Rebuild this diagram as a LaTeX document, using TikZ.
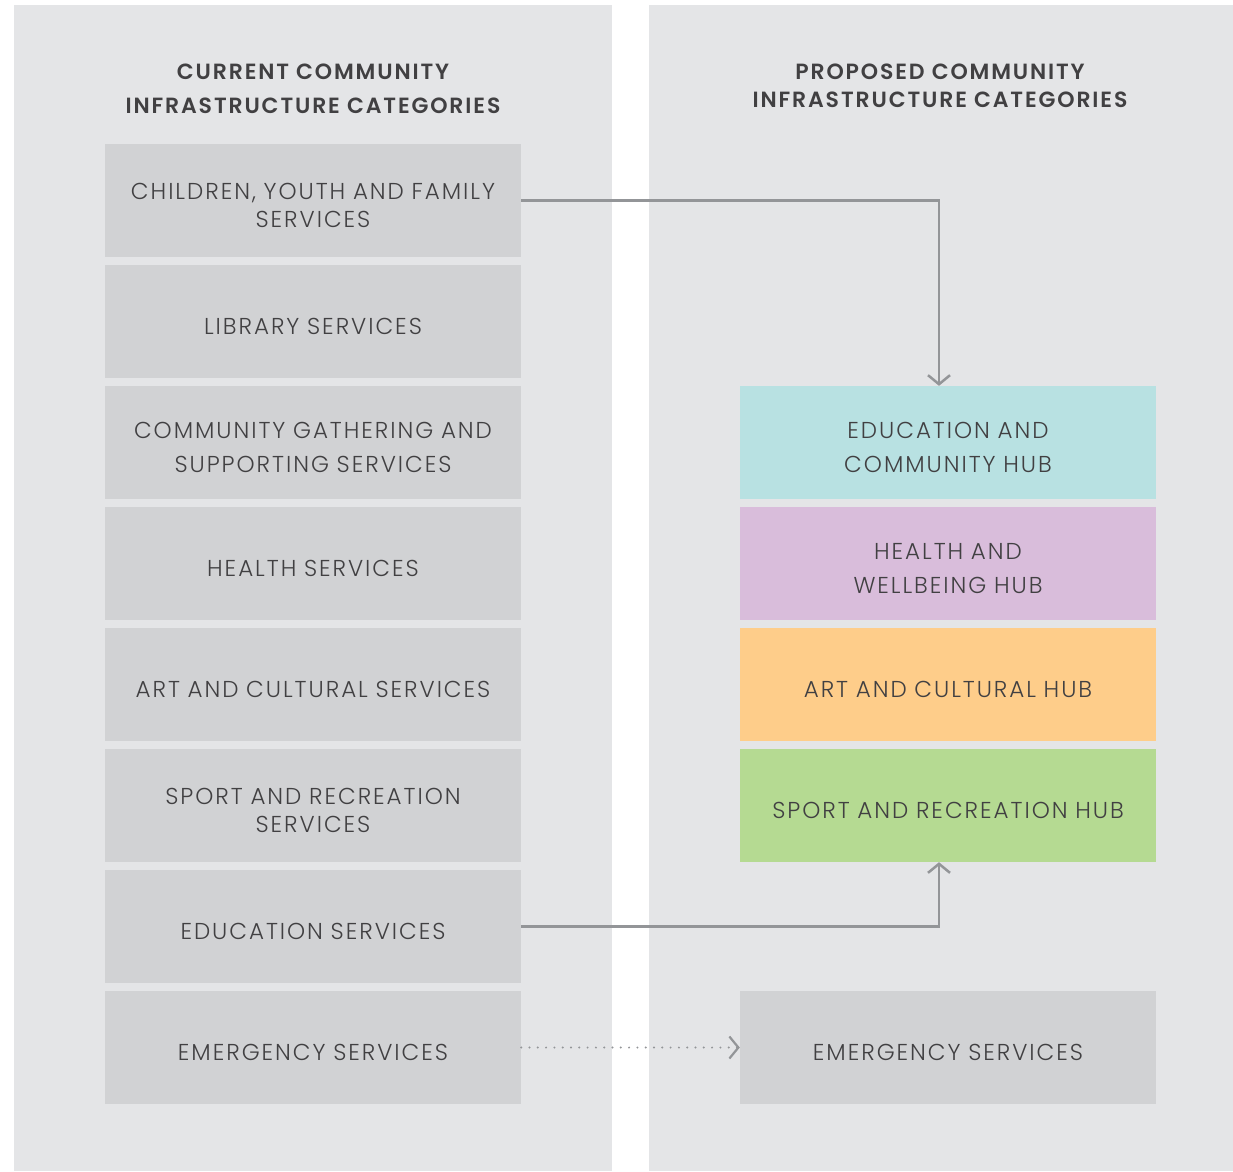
\documentclass[tikz,border=0pt]{standalone}
\usepackage{fontspec}
\setmainfont{Poppins}[UprightFont={* Light},BoldFont={* SemiBold},LetterSpace=8.5]
\usetikzlibrary{arrows.meta}
\definecolor{panel}{HTML}{E4E5E7}
\definecolor{boxgrey}{HTML}{D1D2D4}
\definecolor{hubteal}{HTML}{B8E1E2}
\definecolor{hubpurple}{HTML}{D9BDDB}
\definecolor{huborange}{HTML}{FECD8A}
\definecolor{hubgreen}{HTML}{B5DA92}
\definecolor{linegrey}{HTML}{939598}
\definecolor{txt}{HTML}{414042}
\tikzset{
  catbox/.style={fill=boxgrey, minimum width=416pt, minimum height=113pt, inner sep=0pt},
  cattext/.style={inner sep=0pt, text width=414pt, align=center, text=txt, font=\fontsize{23}{28}\selectfont},
  wide/.style={font=\fontsize{23}{34}\selectfont},
  ttl/.style={align=center, text=txt, font=\bfseries\fontsize{22}{34}\selectfont},
  conn/.style={draw=linegrey, line width=2.5pt, -{Straight Barb[length=9pt,width=22pt,line width=2.5pt]}},
  dotconn/.style={draw=linegrey, line width=2.2pt, dash pattern=on 0pt off 8.3pt, line cap=round, -{Straight Barb[length=9pt,width=22pt,line width=2.2pt,line cap=butt]}}
}
\begin{document}
\begin{tikzpicture}[x=1pt,y=-1pt]
\useasboundingbox (0,0) rectangle (1233,1171);
\fill[white] (0,0) rectangle (1233,1171);
\fill[panel] (14,5) rectangle (612,1171);
\fill[panel] (649,5) rectangle (1233,1171);
\node[ttl] (tl) at (313,89) {CURRENT COMMUNITY\\INFRASTRUCTURE CATEGORIES};
\node[ttl, font=\bfseries\fontsize{22}{28}\selectfont] (tr) at (940,86) {PROPOSED COMMUNITY\\INFRASTRUCTURE CATEGORIES};
% left column boxes
\node[catbox] (cyf) at (313,200.5) {};
\node[catbox] (lib) at (313,321.5) {};
\node[catbox] (com) at (313,442.5) {};
\node[catbox] (hea) at (313,563.5) {};
\node[catbox] (art) at (313,684.5) {};
\node[catbox] (spo) at (313,805.5) {};
\node[catbox] (edu) at (313,926.5) {};
\node[catbox] (eme) at (313,1047.5) {};
% right column boxes
\node[catbox, fill=hubteal] (eduhub) at (948,442.5) {};
\node[catbox, fill=hubpurple] (heahub) at (948,563.5) {};
\node[catbox, fill=huborange] (arthub) at (948,684.5) {};
\node[catbox, fill=hubgreen] (spohub) at (948,805.5) {};
\node[catbox] (emehub) at (948,1047.5) {};
% texts
\node[cattext] (cyf-t) at ([yshift=-5pt]cyf.center) {CHILDREN, YOUTH AND FAMILY\\SERVICES};
\node[cattext] (lib-t) at ([yshift=-5pt]lib.center) {LIBRARY SERVICES};
\node[cattext, wide] (com-t) at ([yshift=-5pt]com.center) {COMMUNITY GATHERING AND\\SUPPORTING SERVICES};
\node[cattext] (hea-t) at ([yshift=-5pt]hea.center) {HEALTH SERVICES};
\node[cattext] (art-t) at ([yshift=-5pt]art.center) {ART AND CULTURAL SERVICES};
\node[cattext] (spo-t) at ([yshift=-5pt]spo.center) {SPORT AND RECREATION\\SERVICES};
\node[cattext] (edu-t) at ([yshift=-5pt]edu.center) {EDUCATION SERVICES};
\node[cattext] (eme-t) at ([yshift=-5pt]eme.center) {EMERGENCY SERVICES};
\node[cattext, wide] (eduhub-t) at ([yshift=-5pt]eduhub.center) {EDUCATION AND\\COMMUNITY HUB};
\node[cattext, wide] (heahub-t) at ([yshift=-5pt]heahub.center) {HEALTH AND\\WELLBEING HUB};
\node[cattext] (arthub-t) at ([yshift=-5pt]arthub.center) {ART AND CULTURAL HUB};
\node[cattext] (spohub-t) at ([yshift=-5pt]spohub.center) {SPORT AND RECREATION HUB};
\node[cattext] (emehub-t) at ([yshift=-5pt]emehub.center) {EMERGENCY SERVICES};
% connectors
\draw[conn] (cyf.east) -| ([xshift=-9pt]eduhub.north);
\draw[conn] (edu.east) -| ([xshift=-9pt]spohub.south);
\draw[dotconn] (eme.east) -- (emehub.west);
\end{tikzpicture}
\end{document}
